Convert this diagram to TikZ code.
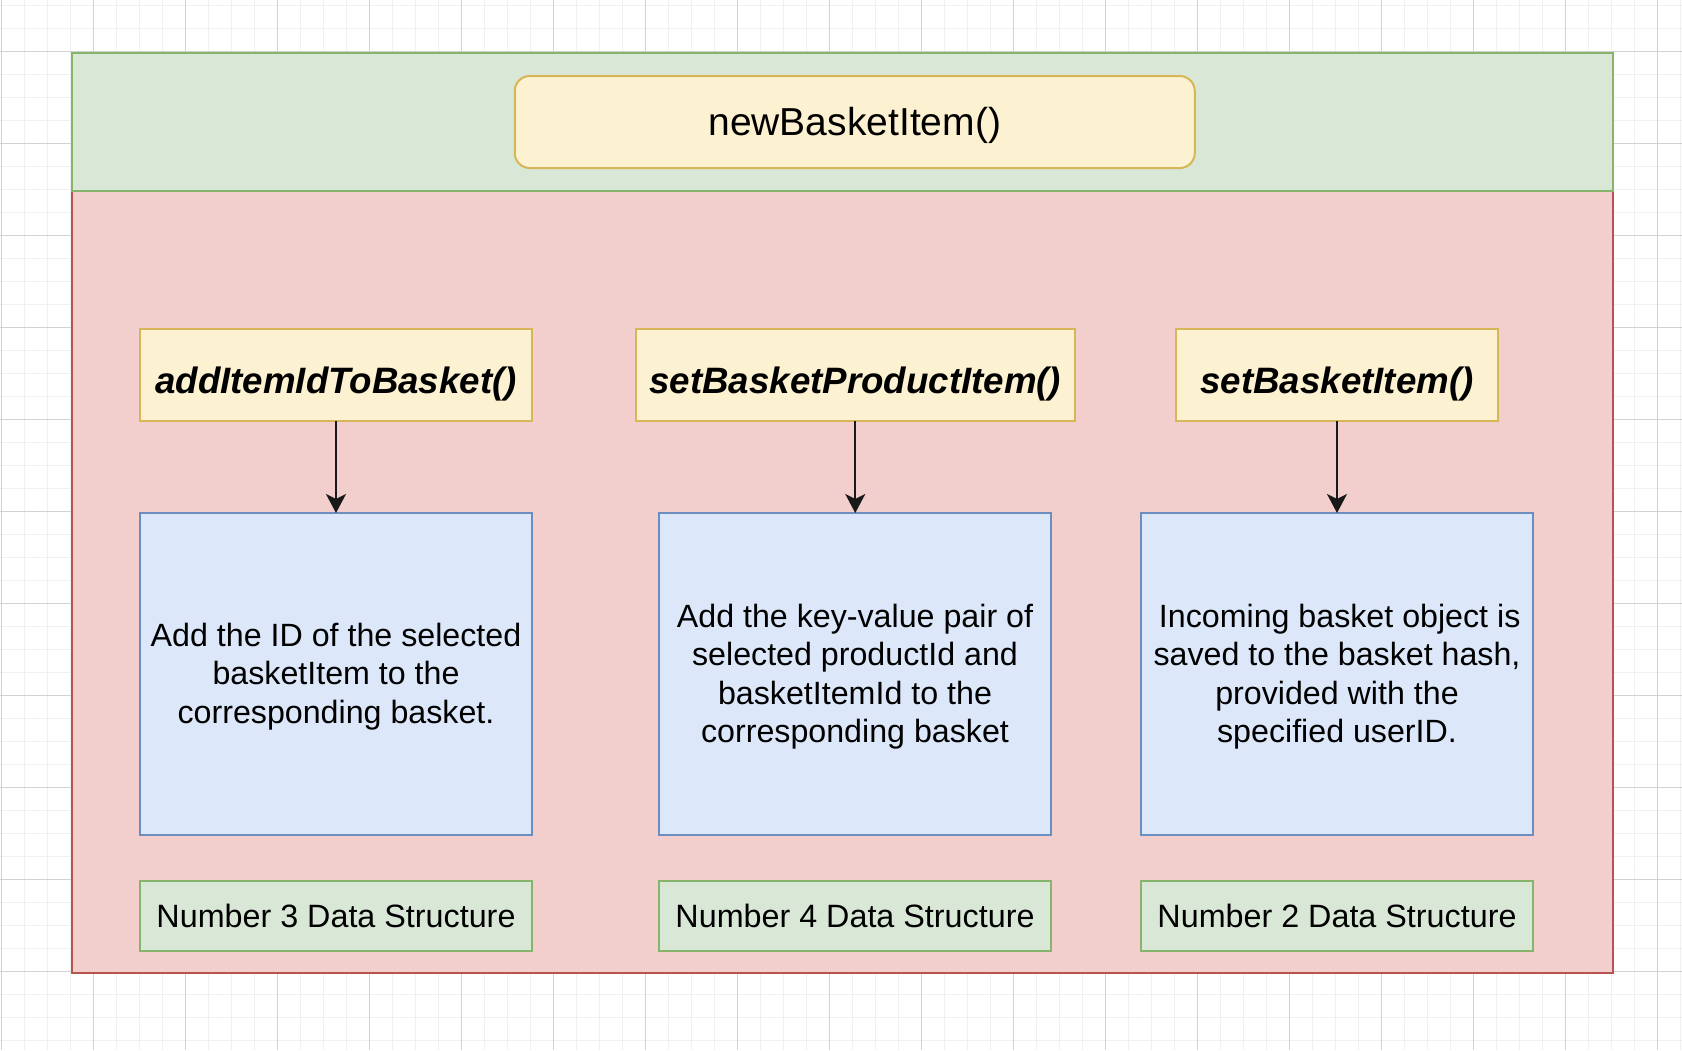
\documentclass[tikz,border=0pt]{standalone}
\usepackage{fontspec}
\setmainfont{Liberation Sans}
\usetikzlibrary{arrows.meta}
\definecolor{gminor}{HTML}{F0F0F0}
\definecolor{gmajor}{HTML}{D2D2D2}
\definecolor{redfill}{HTML}{F2CFCD}
\definecolor{redline}{HTML}{B85450}
\definecolor{grnfill}{HTML}{D9E7D6}
\definecolor{grnline}{HTML}{86B46A}
\definecolor{yelfill}{HTML}{FCF1D0}
\definecolor{yelline}{HTML}{D6B656}
\definecolor{blufill}{HTML}{DCE7F9}
\definecolor{bluline}{HTML}{6C8EBF}
\newcommand{\topstrut}[1]{\rule{0pt}{#1}}
\tikzset{
  gridminor/.style={draw=gminor, line width=1pt},
  gridmajor/.style={draw=gmajor, line width=1pt},
  container/.style={line width=2pt},
  boxbase/.style={rectangle, line width=2pt, inner sep=0pt, outer sep=0pt, align=center, text=black},
  titlebox/.style={boxbase, fill=yelfill, draw=yelline, rounded corners=15pt,
    minimum width=680pt, minimum height=92pt, font=\fontsize{39}{46}\selectfont},
  fnbox/.style={boxbase, fill=yelfill, draw=yelline, minimum height=92pt,
    font=\fontsize{36.7}{44}\selectfont\bfseries\itshape},
  descbox/.style={boxbase, fill=blufill, draw=bluline, minimum width=392pt, minimum height=322pt,
    font=\fontsize{32.2}{38.6}\selectfont},
  dsbox/.style={boxbase, fill=grnfill, draw=grnline, minimum width=392pt, minimum height=70pt,
    font=\fontsize{32.3}{38.6}\selectfont},
  conn/.style={draw=black!90, line width=2pt, -{Stealth[length=19pt,width=20pt,inset=5pt]}}
}
\begin{document}
\begin{tikzpicture}[x=1pt,y=-1pt]
\useasboundingbox (0,0) rectangle (1682,1050);
\fill[white] (0,0) rectangle (1682,1050);
% grid
\foreach \k in {0,...,73} \draw[gridminor] ({1+23*\k},0) -- ({1+23*\k},1050);
\foreach \k in {0,...,45} \draw[gridminor] (0,{5.3+23*\k}) -- (1682,{5.3+23*\k});
\foreach \k in {0,4,...,72} \draw[gridmajor] ({1+23*\k},0) -- ({1+23*\k},1050);
\foreach \k in {2,6,...,42} \draw[gridmajor] (0,{51.3+23*(\k-2)}) -- (1682,{51.3+23*(\k-2)});
% containers
\draw[container, fill=redfill, draw=redline] (72,191) rectangle (1613,973);
\draw[container, fill=grnfill, draw=grnline] (72,53) rectangle (1613,191);
% title
\node[titlebox] (title) at (854.75,122) {\topstrut{34.3pt}newBasketItem()};
% function boxes
\node[fnbox, minimum width=392pt] (f1) at (336,375.3) {\topstrut{44pt}addItemIdToBasket()};
\node[fnbox, minimum width=439.5pt] (f2) at (855.25,375.3) {\topstrut{44pt}setBasketProductItem()};
\node[fnbox, minimum width=322pt] (f3) at (1337,375.3) {\topstrut{44pt}setBasketItem()};
% description boxes
\node[descbox] (b1) at (336,674) {\topstrut{28.5pt}Add the ID of the selected\\basketItem to the\\corresponding basket.};
\node[descbox] (b2) at (855,674) {\topstrut{28.5pt}Add the key-value pair of\\selected productId and\\basketItemId to the\\corresponding basket};
\node[descbox] (b3) at (1337,674) {\topstrut{28.5pt}\,Incoming basket object is\\saved to the basket hash,\\provided with the\\specified userID.};
% data structure boxes
\node[dsbox] (g1) at (336,916) {Number 3 Data Structure};
\node[dsbox] (g2) at (855,916) {Number 4 Data Structure};
\node[dsbox] (g3) at (1337,916) {Number 2 Data Structure};
% connectors
\draw[conn] (f1.south) -- (b1.north);
\draw[conn] (f2.south) -- (f2.south |- b2.north);
\draw[conn] (f3.south) -- (b3.north);
\end{tikzpicture}
\end{document}
